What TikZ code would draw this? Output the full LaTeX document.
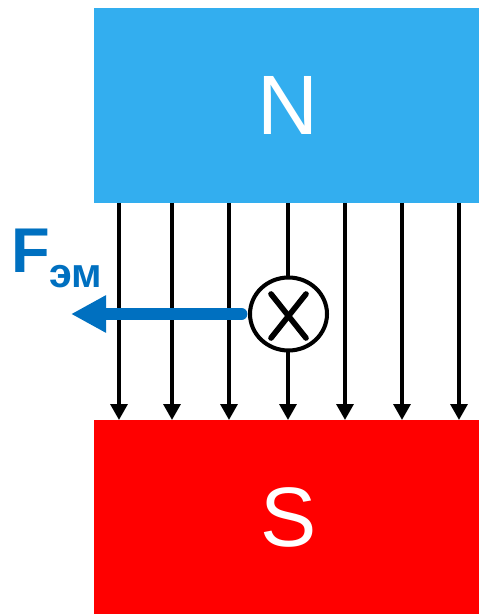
\documentclass[tikz,border=0pt]{standalone}
\usepackage{xcolor}
\usepackage{fontspec}
\setmainfont{Liberation Sans}
\usetikzlibrary{shapes.geometric, arrows.meta, positioning}
\definecolor{northblue}{RGB}{51, 174, 239}
\definecolor{southred}{RGB}{255, 0, 0}
\definecolor{forceblue}{RGB}{0, 112, 192}
\begin{document}
\begin{tikzpicture}[
    x=0.02cm, y=-0.02cm,
    magnet/.style={rectangle, minimum width=7.7cm, minimum height=3.9cm, inner sep=0pt, outer sep=0pt, text=white, font=\fontsize{48}{48}\selectfont},
    fieldline/.style={-{Triangle[length=9pt, width=9.5pt]}, line width=2pt, black},
    current/.style={ellipse, draw=black, fill=white, line width=2.3pt, minimum width=1.54cm, minimum height=1.46cm, inner sep=0pt},
    crossline/.style={line width=3.2pt, black, line cap=round},
    force/.style={-{Triangle[length=20pt, width=20pt]}, line width=6.8pt, forceblue, line cap=round}
]
    \useasboundingbox (0,0) rectangle (479,614);
    \node[magnet, fill=northblue, anchor=north west] (north) at (94,8) {\hspace{2pt}\raisebox{-1.5pt}{N}};
    \node[magnet, fill=southred, anchor=north west] (south) at (94,420) {\hspace{2pt}\raisebox{-2pt}{S}};

    \foreach \x in {119,172,229,288,345,402,459}
        \draw[fieldline] (\x,0 |- north.south) -- (\x,0 |- south.north);

    \coordinate (forcetip) at (71,314);
    \draw[force] (288.5,314) ++(-47,0) -- (forcetip);
    \node[current] (wire) at (288.5,314) {};
    \draw[crossline] (wire.center) +(-17.5,-20) -- +(17.5,24);
    \draw[crossline] (wire.center) +(17.5,-20) -- +(-17.5,24);

    \node[anchor=base west, inner sep=0pt, text=forceblue, font=\fontsize{36}{36}\selectfont\bfseries] (fname) at (11,273) {F};
    \node[anchor=base west, inner sep=0pt, text=forceblue, font=\fontsize{23.5}{23.5}\selectfont\bfseries] (fsub) at (49,288) {эм};
\end{tikzpicture}
\end{document}
